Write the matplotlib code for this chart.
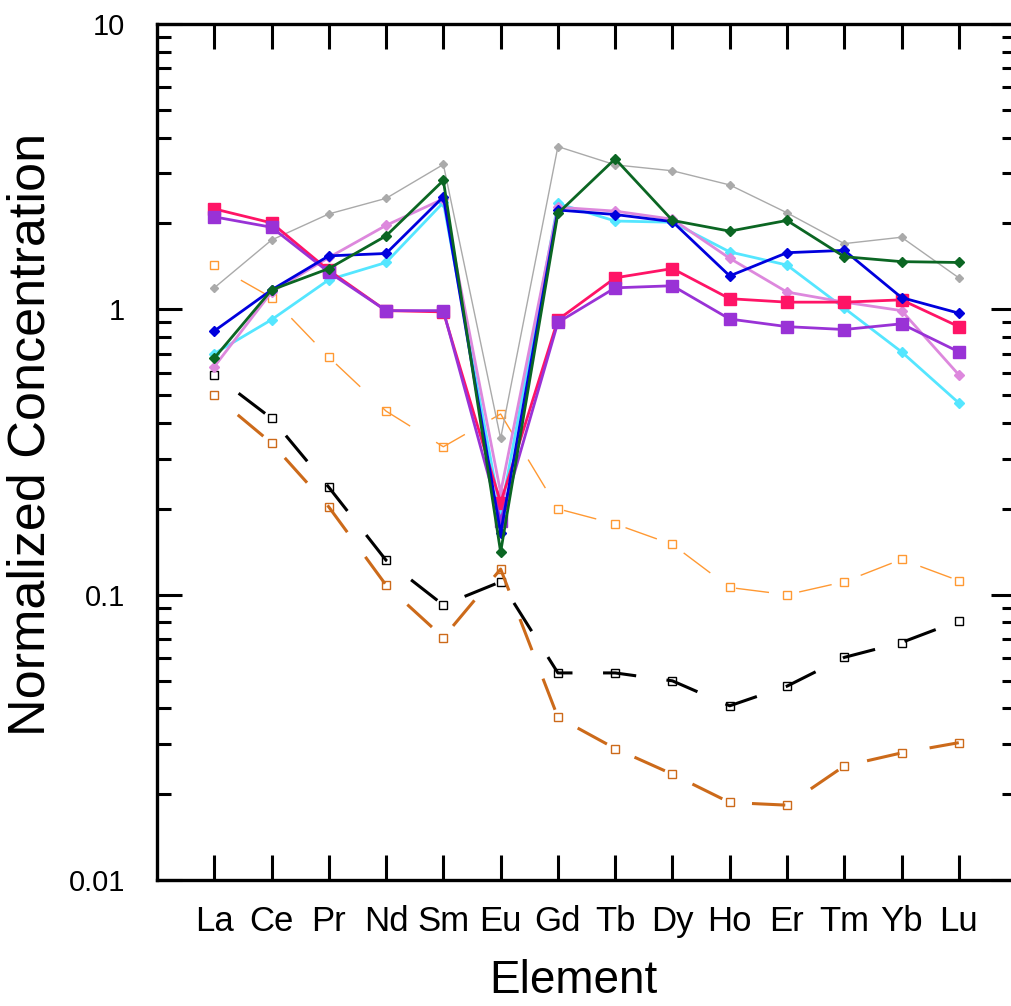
import matplotlib.pyplot as plt
from matplotlib.ticker import LogLocator, NullFormatter, FixedLocator

plt.rcParams['font.family'] = ['Liberation Sans', 'DejaVu Sans']
plt.rcParams['lines.scale_dashes'] = False

elements = ['La', 'Ce', 'Pr', 'Nd', 'Sm', 'Eu', 'Gd', 'Tb', 'Dy', 'Ho', 'Er', 'Tm', 'Yb', 'Lu']

# chondrite-normalized REE patterns
crimson = [2.25, 2.01, 1.37, 0.99, 0.98, 0.21, 0.92, 1.29, 1.39, 1.09, 1.06, 1.06, 1.08, 0.87]
violet = [2.11, 1.94, 1.35, 0.99, 0.99, 0.182, 0.90, 1.19, 1.21, 0.925, 0.87, 0.85, 0.89, 0.71]
blue = [0.84, 1.17, 1.54, 1.57, 2.48, 0.164, 2.23, 2.15, 2.03, 1.31, 1.58, 1.61, 1.10, 0.97]
green = [0.675, 1.17, 1.39, 1.81, 2.83, 0.141, 2.17, 3.37, 2.05, 1.88, 2.05, 1.53, 1.47, 1.46]
cyan = [0.70, 0.92, 1.27, 1.46, 2.37, 0.193, 2.35, 2.04, 2.02, 1.59, 1.43, 1.01, 0.71, 0.47]
orchid = [0.63, 1.15, 1.52, 1.97, 2.44, 0.228, 2.28, 2.21, 2.07, 1.51, 1.15, 1.06, 0.99, 0.59]
gray = [1.19, 1.75, 2.16, 2.45, 3.22, 0.353, 3.72, 3.21, 3.06, 2.73, 2.18, 1.70, 1.79, 1.29]
orange = [1.43, 1.10, 0.68, 0.44, 0.33, 0.43, 0.20, 0.177, 0.150, 0.106, 0.100, 0.111, 0.133, 0.112]
black = [0.59, 0.415, 0.238, 0.132, 0.092, 0.111, 0.0532, 0.0532, 0.0499, 0.0408, 0.0478, 0.0603, 0.068, 0.081]
brown = [0.50, 0.34, 0.203, 0.108, 0.0708, 0.123, 0.0372, 0.0289, 0.0235, 0.0187, 0.0183, 0.0251, 0.0279, 0.0303]

x = list(range(len(elements)))

fig = plt.figure(figsize=(10.11, 10.06), dpi=100)
ax = fig.add_axes([0.1553, 0.1252, 0.8497, 0.8509])

# dashed patterns with open squares
dash = (24, (24, 22))
ax.plot(x, orange, color='#ff9933', lw=1.0, linestyle=dash, marker='s', ms=6,
        mfc='none', mec='#ff9933', mew=1.0)
ax.plot(x, black, color='black', lw=2.2, linestyle=dash, marker='s', ms=6,
        mfc='none', mec='black', mew=1.0)
ax.plot(x, brown, color='#cc6a1a', lw=2.2, linestyle=dash, marker='s', ms=6,
        mfc='none', mec='#cc6a1a', mew=1.0)

# solid patterns
ax.plot(x, gray, color='#aaaaaa', lw=1.0, marker='D', ms=4.5, mec='#aaaaaa')
ax.plot(x, cyan, color='#55e6ff', lw=2.0, marker='D', ms=5, mec='#55e6ff')
ax.plot(x, orchid, color='#dd88dd', lw=2.0, marker='D', ms=5, mec='#dd88dd')
ax.plot(x, crimson, color='#ff1466', lw=2.0, marker='s', ms=8, mec='#ff1466')
ax.plot(x, violet, color='#9932d6', lw=2.0, marker='s', ms=8, mec='#9932d6')
ax.plot(x, blue, color='#0000dd', lw=2.0, marker='D', ms=5, mec='#0000dd')
ax.plot(x, green, color='#0b6623', lw=2.0, marker='D', ms=5, mec='#0b6623')

ax.set_yscale('log')
ax.set_ylim(0.01, 10)
ax.set_xlim(-1, 14)

ax.yaxis.set_major_locator(FixedLocator([0.01, 0.1, 1, 10]))
ax.set_yticklabels(['0.01', '0.1', '1', '10'])
ax.yaxis.set_minor_locator(LogLocator(base=10, subs=range(2, 10)))
ax.yaxis.set_minor_formatter(NullFormatter())
ax.set_xticks(x)
ax.set_xticklabels(elements)

for s in ax.spines.values():
  s.set_linewidth(2.4)

ax.tick_params(axis='both', which='major', direction='in', length=18, width=2.2,
               top=True, right=True)
ax.tick_params(axis='y', which='minor', direction='in', length=10, width=2.2, right=True)
ax.tick_params(axis='y', which='major', labelsize=21, pad=23)
ax.tick_params(axis='x', which='major', labelsize=25, pad=18)

ax.set_xlabel('Element', fontsize=33)
ax.xaxis.set_label_coords(0.485, -0.092)
ax.set_ylabel('Normalized Concentration', fontsize=37.5)
ax.yaxis.set_label_coords(-0.118, 0.52)

fig.savefig('out.png', dpi=100)
